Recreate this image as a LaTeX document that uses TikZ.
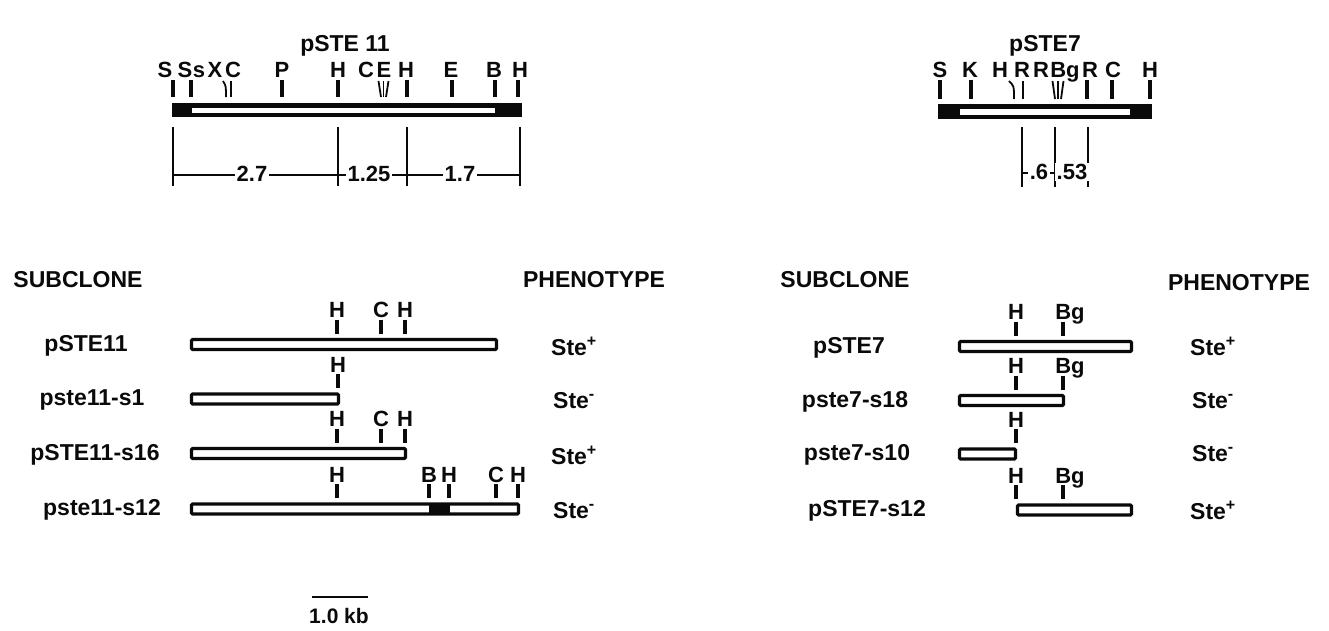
\documentclass[tikz,border=0pt]{standalone}
\usepackage{fontspec}
\setmainfont{Liberation Sans}
\usetikzlibrary{positioning}
\definecolor{ink}{gray}{0.04}

\begin{document}
\begin{tikzpicture}[x=1pt, y=-1pt,
  lbl/.style={font=\bfseries\fontsize{23}{25}\selectfont, text=ink, inner sep=0pt},
  site/.style={lbl, font=\bfseries\fontsize{22}{24}\selectfont, anchor=base},
  cut/.style={draw=ink, line width=3.2pt},
  thincut/.style={draw=ink, line width=1.8pt},
  clone/.style={draw=ink, fill=white, line width=3.2pt, rounded corners=1.2pt},
  dimln/.style={draw=ink, line width=2.6pt},
  dimlab/.style={lbl, font=\bfseries\fontsize{22}{24}\selectfont, fill=white, inner sep=1.5pt}]
  \useasboundingbox (0,0) rectangle (1329,630);

  % full maps
  \node[lbl] (map11) at (345,46) {pSTE 11};
  \fill[ink] (172,103) rectangle (522,117);
  \fill[white] (192,107.5) rectangle (495,112.5);
  \foreach \x/\s [count=\i] in {165/S,185/S,199/s,215/X,233/C,282/P,338/H,366/C,384/E,406/H,451/E,494/B,520/H}
    \node[site] (a\i) at (\x,77) {\s};
  \foreach \x in {173,191,282,338,407,452,495,518}
    \draw[cut] (\x,80) -- (\x,97);
  \draw[thincut] (223,81) .. controls (226,86) .. (226,97);
  \draw[thincut] (231,81) -- (231,97);
  \draw[thincut] (378.5,81) -- (381,97);
  \draw[thincut] (383.5,81) -- (383.5,97);
  \draw[thincut] (388.5,81) -- (386,97);
  \foreach \x in {173,338,407,520}
    \draw[dimln] (\x,127) -- (\x,186);
  \draw[dimln] (173,175) -- (520,175);
  \foreach \x/\d [count=\i] in {252/2.7,369/1.25,460/1.7}
    \node[dimlab] (da\i) at (\x,174) {\d};

  \node[lbl] (map7) at (1045,46) {pSTE7};
  \fill[ink] (938,104) rectangle (1152,119);
  \fill[white] (960,108.5) rectangle (1130,114.5);
  \foreach \x/\s [count=\i] in {940/S,970/K,1000/H,1022/R,1041/R,1065/Bg,1090/R,1113/C,1150/H}
    \node[site] (b\i) at (\x,77) {\s};
  \draw[thincut] (1009,81) .. controls (1014,86) .. (1014,99);
  \draw[thincut] (1023,81) -- (1023,99);
  \foreach \x in {940,971,1087,1112,1150}
    \draw[cut] (\x,80) -- (\x,99);
  \draw[thincut] (1052.5,81) -- (1055,99);
  \draw[thincut] (1058,81) -- (1058,99);
  \draw[thincut] (1063.5,81) -- (1061,99);
  \foreach \x in {1022,1055,1088}
    \draw[dimln] (\x,127) -- (\x,187);
  \draw[dimln] (1022,173) -- (1088,173);
  \node[dimlab] (db1) at (1039,172) {.6};
  \node[dimlab] (db2) at (1072,172) {.53};

  % subclones of pSTE11
  \node[lbl] (sub11) at (78,280) {SUBCLONE};
  \node[lbl] (phe11) at (594,280) {PHENOTYPE};
  \foreach \y/\xa/\xb/\nm/\lx/\ph [count=\i] in {
    344.5/191.5/496.5/pSTE11/86/+,
    399/191.5/338.5/pste11-s1/92/-,
    453.5/191.5/405.5/pSTE11-s16/95/+,
    509/191.5/518.5/pste11-s12/102/-} {
      \node[lbl] (c\i) at (\lx,\y+1) {\nm};
      \draw[clone] (\xa,\y-5) rectangle (\xb,\y+5);
      \node[lbl] (p\i) at (574,\y+2) {Ste\textsuperscript{\ph}};
  }
  \fill[ink] (429,504) rectangle (450,514);
  \foreach \y/\x/\s in {344.5/337/H,344.5/381/C,344.5/405/H,399/338/H,
    453.5/337/H,453.5/381/C,453.5/405/H,
    509/337/H,509/429/B,509/449/H,509/496/C,509/518/H} {
      \draw[cut] (\x,\y-25) -- (\x,\y-11);
      \node[site] at (\x,\y-27) {\s};
  }

  % subclones of pSTE7
  \node[lbl] (sub7) at (845,280) {SUBCLONE};
  \node[lbl] (phe7) at (1239,283) {PHENOTYPE};
  \foreach \y/\xa/\xb/\nm/\lx/\ph [count=\i] in {
    346.5/959.5/1131.5/pSTE7/849/+,
    400.5/959.5/1063.5/pste7-s18/855/-,
    454/959.5/1015.5/pste7-s10/857/-,
    510/1017.5/1131.5/pSTE7-s12/867/+} {
      \node[lbl] (e\i) at (\lx,\y+1) {\nm};
      \draw[clone] (\xa,\y-5) rectangle (\xb,\y+5);
      \node[lbl] (q\i) at (1213,\y) {Ste\textsuperscript{\ph}};
  }
  \foreach \y/\x/\s/\dx in {346.5/1016/H/0,346.5/1063/Bg/7,400.5/1016/H/0,400.5/1063/Bg/7,
    454/1016/H/0,510/1016/H/0,510/1063/Bg/7} {
      \draw[cut] (\x,\y-25) -- (\x,\y-11);
      \node[site] at (\x+\dx,\y-27) {\s};
  }

  % scale
  \draw[line width=2.6pt, ink] (312,597) -- (368,597);
  \node[lbl, font=\bfseries\fontsize{21}{23}\selectfont] (kb) at (339,616) {1.0 kb};
\end{tikzpicture}
\end{document}
